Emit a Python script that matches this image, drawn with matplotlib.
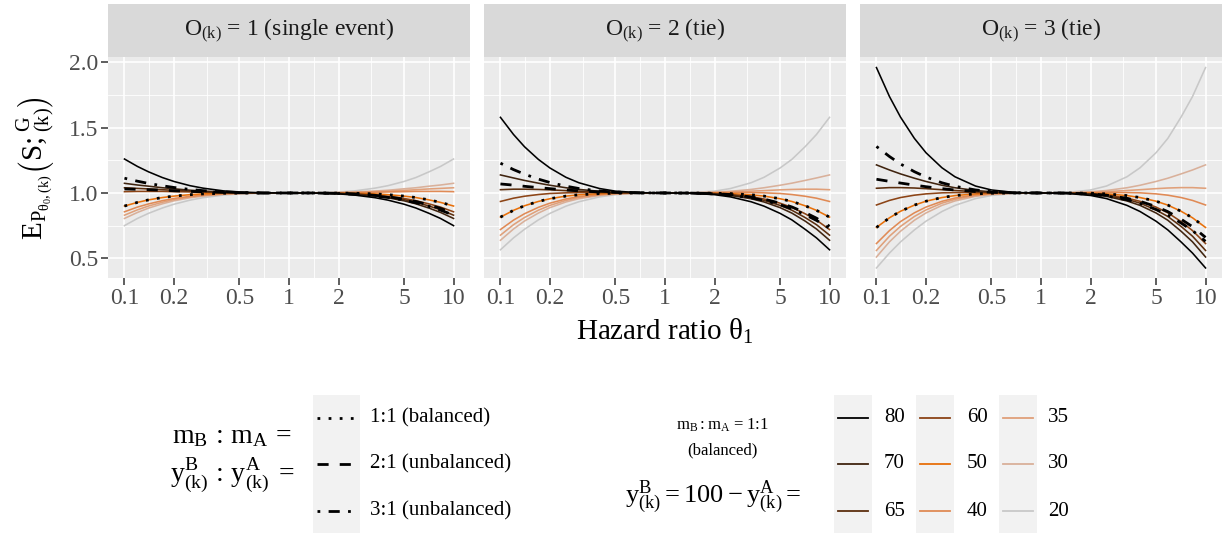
import matplotlib
matplotlib.use('Agg')
import matplotlib.pyplot as plt
from matplotlib.lines import Line2D
from matplotlib.patches import Rectangle

plt.rcParams['font.family'] = ['Liberation Serif', 'DejaVu Serif']
plt.rcParams['mathtext.fontset'] = 'custom'
plt.rcParams['mathtext.rm'] = 'Liberation Serif'
plt.rcParams['mathtext.it'] = 'Liberation Serif'
plt.rcParams['mathtext.bf'] = 'Liberation Serif:bold'

# ---------------- data ----------------
theta = [0.1, 0.12, 0.14, 0.17, 0.2, 0.25, 0.3, 0.4, 0.5, 0.7, 1,
         1.43, 2, 2.5, 3.33, 4, 5, 5.9, 7.1, 8.33, 10]

panel_titles = [r'$\mathrm{O_{(k)}}$ = 1 (single event)',
                r'$\mathrm{O_{(k)}}$ = 2 (tie)',
                r'$\mathrm{O_{(k)}}$ = 3 (tie)']

y_levels = ['80', '70', '65', '60', '50', '40', '35', '30', '20']
y_colors = ['#000000', '#40240f', '#5c2e0e', '#8c4416', '#e8700a',
            '#e08a55', '#e0a07a', '#d9b09a', '#c8c8c8']

ratio_labels = ['1:1 (balanced)', '2:1 (unbalanced)', '3:1 (unbalanced)']

panel1_y = {
    '80': [1.260, 1.203, 1.162, 1.118, 1.088, 1.056, 1.037, 1.016, 1.007, 1.001, 1, 0.999, 0.993, 0.984, 0.964, 0.945, 0.914, 0.885, 0.844, 0.805, 0.750],
    '70': [1.074, 1.061, 1.052, 1.040, 1.032, 1.021, 1.015, 1.007, 1.003, 1.001, 1, 0.999, 0.996, 0.990, 0.976, 0.963, 0.940, 0.917, 0.884, 0.851, 0.805],
    '65': [1.040, 1.035, 1.031, 1.025, 1.020, 1.014, 1.010, 1.005, 1.002, 1.000, 1, 1.000, 0.997, 0.992, 0.980, 0.969, 0.949, 0.929, 0.900, 0.871, 0.830],
    '60': [1.010, 1.012, 1.012, 1.012, 1.010, 1.008, 1.006, 1.003, 1.002, 1.000, 1, 1.000, 0.997, 0.993, 0.984, 0.974, 0.958, 0.941, 0.916, 0.892, 0.856],
    '50': [0.900, 0.928, 0.947, 0.965, 0.976, 0.987, 0.993, 0.998, 0.999, 1.000, 1, 1.000, 0.999, 0.998, 0.993, 0.987, 0.976, 0.965, 0.947, 0.928, 0.900],
    '40': [0.856, 0.892, 0.916, 0.941, 0.958, 0.974, 0.984, 0.993, 0.997, 1.000, 1, 1.000, 1.002, 1.003, 1.006, 1.008, 1.010, 1.012, 1.012, 1.012, 1.010],
    '35': [0.830, 0.871, 0.900, 0.929, 0.949, 0.969, 0.980, 0.992, 0.997, 1.000, 1, 1.000, 1.002, 1.005, 1.010, 1.014, 1.020, 1.025, 1.031, 1.035, 1.040],
    '30': [0.805, 0.851, 0.884, 0.917, 0.940, 0.963, 0.976, 0.990, 0.996, 0.999, 1, 1.001, 1.003, 1.007, 1.015, 1.021, 1.032, 1.040, 1.052, 1.061, 1.074],
    '20': [0.750, 0.805, 0.844, 0.885, 0.914, 0.945, 0.964, 0.984, 0.993, 0.999, 1, 1.001, 1.007, 1.016, 1.037, 1.056, 1.088, 1.118, 1.162, 1.203, 1.260],
}
panel1_ratio = {
    '1:1 (balanced)': [0.900, 0.928, 0.947, 0.965, 0.976, 0.987, 0.993, 0.998, 0.999, 1.000, 1, 1.000, 0.999, 0.998, 0.993, 0.987, 0.976, 0.965, 0.947, 0.928, 0.900],
    '2:1 (unbalanced)': [1.031, 1.028, 1.025, 1.021, 1.017, 1.012, 1.009, 1.004, 1.002, 1.000, 1, 1.000, 0.997, 0.993, 0.982, 0.971, 0.953, 0.935, 0.908, 0.882, 0.844],
    '3:1 (unbalanced)': [1.113, 1.090, 1.073, 1.055, 1.042, 1.027, 1.018, 1.008, 1.004, 1.000, 1, 1.000, 0.996, 0.990, 0.976, 0.966, 0.945, 0.925, 0.897, 0.869, 0.830],
}

panel2_y = {
    '80': [1.579, 1.448, 1.354, 1.257, 1.191, 1.120, 1.078, 1.034, 1.014, 1.002, 1, 0.998, 0.987, 0.970, 0.933, 0.899, 0.844, 0.794, 0.722, 0.656, 0.565],
    '70': [1.138, 1.115, 1.096, 1.075, 1.059, 1.040, 1.027, 1.013, 1.006, 1.001, 1, 0.999, 0.992, 0.981, 0.956, 0.931, 0.888, 0.846, 0.785, 0.724, 0.638],
    '65': [1.025, 1.029, 1.029, 1.027, 1.024, 1.018, 1.014, 1.007, 1.004, 1.001, 1, 0.999, 0.994, 0.985, 0.964, 0.943, 0.905, 0.868, 0.812, 0.757, 0.677],
    '60': [0.935, 0.960, 0.975, 0.988, 0.996, 1.001, 1.003, 1.003, 1.002, 1.000, 1, 1.000, 0.996, 0.989, 0.972, 0.954, 0.922, 0.890, 0.841, 0.792, 0.720],
    '50': [0.815, 0.867, 0.902, 0.935, 0.956, 0.976, 0.986, 0.995, 0.998, 1.000, 1, 1.000, 0.998, 0.995, 0.986, 0.976, 0.956, 0.935, 0.902, 0.867, 0.815],
    '40': [0.720, 0.792, 0.841, 0.890, 0.922, 0.954, 0.972, 0.989, 0.996, 1.000, 1, 1.000, 1.002, 1.003, 1.003, 1.001, 0.996, 0.988, 0.975, 0.960, 0.935],
    '35': [0.677, 0.757, 0.812, 0.868, 0.905, 0.943, 0.964, 0.985, 0.994, 0.999, 1, 1.001, 1.004, 1.007, 1.014, 1.018, 1.024, 1.027, 1.029, 1.029, 1.025],
    '30': [0.638, 0.724, 0.785, 0.846, 0.888, 0.931, 0.956, 0.981, 0.992, 0.999, 1, 1.001, 1.006, 1.013, 1.027, 1.040, 1.059, 1.075, 1.096, 1.115, 1.138],
    '20': [0.565, 0.656, 0.722, 0.794, 0.844, 0.899, 0.933, 0.970, 0.987, 0.998, 1, 1.002, 1.014, 1.034, 1.078, 1.120, 1.191, 1.257, 1.354, 1.448, 1.579],
}
panel2_ratio = {
    '1:1 (balanced)': [0.815, 0.867, 0.902, 0.935, 0.956, 0.976, 0.986, 0.995, 0.998, 1.000, 1, 1.000, 0.998, 0.995, 0.986, 0.976, 0.956, 0.935, 0.902, 0.867, 0.815],
    '2:1 (unbalanced)': [1.069, 1.060, 1.051, 1.041, 1.033, 1.023, 1.016, 1.008, 1.004, 1.001, 1, 0.999, 0.995, 0.988, 0.970, 0.953, 0.922, 0.893, 0.850, 0.807, 0.745],
    '3:1 (unbalanced)': [1.228, 1.179, 1.144, 1.106, 1.080, 1.052, 1.034, 1.015, 1.007, 1.001, 1, 0.999, 0.993, 0.984, 0.963, 0.943, 0.910, 0.879, 0.834, 0.790, 0.730],
}

panel3_y = {
    '80': [1.960, 1.738, 1.581, 1.418, 1.308, 1.193, 1.124, 1.053, 1.023, 1.003, 1, 0.997, 0.981, 0.957, 0.905, 0.858, 0.784, 0.717, 0.625, 0.540, 0.426],
    '70': [1.215, 1.176, 1.146, 1.113, 1.088, 1.059, 1.040, 1.019, 1.009, 1.001, 1, 0.999, 0.989, 0.974, 0.939, 0.905, 0.847, 0.791, 0.707, 0.626, 0.510],
    '65': [1.036, 1.041, 1.041, 1.038, 1.033, 1.025, 1.019, 1.010, 1.005, 1.001, 1, 0.999, 0.992, 0.980, 0.951, 0.922, 0.870, 0.820, 0.744, 0.669, 0.560],
    '60': [0.908, 0.943, 0.965, 0.983, 0.993, 1.001, 1.003, 1.003, 1.002, 1.000, 1, 0.999, 0.994, 0.985, 0.961, 0.936, 0.892, 0.848, 0.781, 0.712, 0.613],
    '50': [0.736, 0.810, 0.860, 0.907, 0.937, 0.965, 0.980, 0.993, 0.998, 1.000, 1, 1.000, 0.998, 0.993, 0.980, 0.965, 0.937, 0.907, 0.860, 0.810, 0.736],
    '40': [0.613, 0.712, 0.781, 0.848, 0.892, 0.936, 0.961, 0.985, 0.994, 0.999, 1, 1.000, 1.002, 1.003, 1.003, 1.001, 0.993, 0.983, 0.965, 0.943, 0.908],
    '35': [0.560, 0.669, 0.744, 0.820, 0.870, 0.922, 0.951, 0.980, 0.992, 0.999, 1, 1.001, 1.005, 1.010, 1.019, 1.025, 1.033, 1.038, 1.041, 1.041, 1.036],
    '30': [0.510, 0.626, 0.707, 0.791, 0.847, 0.905, 0.939, 0.974, 0.989, 0.999, 1, 1.001, 1.009, 1.019, 1.040, 1.059, 1.088, 1.113, 1.146, 1.176, 1.215],
    '20': [0.426, 0.540, 0.625, 0.717, 0.784, 0.858, 0.905, 0.957, 0.981, 0.997, 1, 1.003, 1.023, 1.053, 1.124, 1.193, 1.308, 1.418, 1.581, 1.738, 1.960],
}
panel3_ratio = {
    '1:1 (balanced)': [0.736, 0.810, 0.860, 0.907, 0.937, 0.965, 0.980, 0.993, 0.998, 1.000, 1, 1.000, 0.998, 0.993, 0.980, 0.965, 0.937, 0.907, 0.860, 0.810, 0.736],
    '2:1 (unbalanced)': [1.105, 1.089, 1.076, 1.060, 1.048, 1.033, 1.023, 1.011, 1.005, 1.001, 1, 0.999, 0.993, 0.983, 0.959, 0.936, 0.896, 0.857, 0.799, 0.742, 0.660],
    '3:1 (unbalanced)': [1.356, 1.279, 1.222, 1.163, 1.122, 1.078, 1.051, 1.023, 1.010, 1.001, 1, 0.999, 0.990, 0.977, 0.948, 0.920, 0.874, 0.832, 0.770, 0.712, 0.630],
}

x_breaks = [0.1, 0.2, 0.5, 1, 2, 5, 10]
x_labels = ['0.1', '0.2', '0.5', '1', '2', '5', '10']
x_minor = [0.1414, 0.3162, 0.7071, 1.4142, 3.1623, 7.0711]
y_breaks = [0.5, 1.0, 1.5, 2.0]
y_labels = ['0.5', '1.0', '1.5', '2.0']
y_minor = [0.75, 1.25, 1.75]

# ---------------- styles ----------------
ratio_styles = [(0, (1, 3)), (0, (4, 4)), (0, (1, 3, 4, 3))]
W, H = 1225, 533
fig = plt.figure(figsize=(W / 100, H / 100), dpi=100)


def fx(x):
    return x / W


def fy(y):
    return 1 - y / H


panel_left = [108, 484, 860]
panel_w = 362
top, bottom = 57, 278
strip_top = 4

panels_y = [panel1_y, panel2_y, panel3_y]
panels_r = [panel1_ratio, panel2_ratio, panel3_ratio]

for i in range(3):
    ax = fig.add_axes([fx(panel_left[i]), fy(bottom), panel_w / W, (bottom - top) / H])
    ax.set_facecolor('#EBEBEB')
    ax.set_xscale('log')
    ax.set_xlim(10 ** -1.1, 10 ** 1.1)
    ax.set_ylim(0.349, 2.041)
    for s in ax.spines.values():
        s.set_visible(False)
    for xv in x_minor:
        ax.axvline(xv, color='white', lw=0.6, zorder=0.5)
    for yv in y_minor:
        ax.axhline(yv, color='white', lw=0.6, zorder=0.5)
    for xv in x_breaks:
        ax.axvline(xv, color='white', lw=1.2, zorder=0.6)
    for yv in y_breaks:
        ax.axhline(yv, color='white', lw=1.2, zorder=0.6)
    ax.set_xticks(x_breaks)
    ax.set_xticklabels(x_labels)
    ax.xaxis.set_minor_locator(matplotlib.ticker.NullLocator())
    ax.tick_params(axis='x', length=5, width=1.1, color='#333333',
                   labelsize=17, labelcolor='#4D4D4D', pad=2)
    ax.set_yticks(y_breaks)
    if i == 0:
        ax.set_yticklabels(y_labels)
        ax.tick_params(axis='y', length=5, width=1.1, color='#333333',
                       labelsize=17, labelcolor='#4D4D4D', pad=2)
    else:
        ax.tick_params(axis='y', length=0, labelleft=False)

    dct = panels_y[i]
    for lev, col in reversed(list(zip(y_levels, y_colors))):
        ax.plot(theta, dct[lev], color=col, lw=1.15, zorder=2)
    rd = panels_r[i]
    for lab, ls in zip(ratio_labels, ratio_styles):
        ax.plot(theta, rd[lab], color='black', lw=2.0, linestyle=ls,
                dash_capstyle='butt', zorder=3)

    # strip
    sax = fig.add_axes([fx(panel_left[i]), fy(top), panel_w / W, (top - strip_top) / H])
    sax.set_facecolor('#D9D9D9')
    sax.set_xticks([])
    sax.set_yticks([])
    for s in sax.spines.values():
        s.set_visible(False)
    sax.text(0.5, 0.5, panel_titles[i], ha='center', va='center',
             fontsize=17, color='#1A1A1A', transform=sax.transAxes)

# axis titles
fig.text(fx(665), fy(331), r'Hazard ratio $\mathrm{\theta_1}$', ha='center', va='center', fontsize=21)
fig.text(fx(36), fy(168), r'$\mathrm{E_{P_{\theta_0,(k)}}\left(S;^{G}_{(k)}\right)}$',
         ha='center', va='center', rotation=90, fontsize=21)

# ---------------- legends ----------------
key_bg = '#F2F2F2'
rows = [418, 464, 511]

# legend 1 (linetype)
fig.add_artist(Rectangle((fx(313), fy(533)), 47 / W, 138 / H, transform=fig.transFigure,
                         facecolor=key_bg, edgecolor='none'))
for r, lab, ls in zip(rows, ratio_labels, ratio_styles):
    fig.add_artist(Line2D([fx(317), fx(356)], [fy(r), fy(r)], transform=fig.transFigure,
                          color='black', lw=2.0, linestyle=ls, dash_capstyle='butt'))
    fig.text(fx(370), fy(r), lab, ha='left', va='center', fontsize=15)
fig.text(fx(172), fy(437), r'$\mathrm{m_B\,:\,m_A\,=}$', ha='left', va='center', fontsize=20)
fig.text(fx(170), fy(476), r'$\mathrm{y^B_{(k)}\,:\,y^A_{(k)}\;=}$', ha='left', va='center', fontsize=20)

# legend 2 (colour)
fig.text(fx(722), fy(425), r'$\mathrm{m_B{:}m_A}$ = 1:1', ha='center', va='center', fontsize=12)
fig.text(fx(722), fy(450), '(balanced)', ha='center', va='center', fontsize=12)
fig.text(fx(625), fy(497), r'$\mathrm{y^B_{(k)} = 100 - y^A_{(k)} =}$', ha='left', va='center', fontsize=19)

col_bg = [834, 916, 999]
col_lab = [884, 967, 1048]
for c in range(3):
    fig.add_artist(Rectangle((fx(col_bg[c]), fy(533)), 38 / W, 138 / H, transform=fig.transFigure,
                             facecolor=key_bg, edgecolor='none'))
    for rr in range(3):
        k = c * 3 + rr
        fig.add_artist(Line2D([fx(col_bg[c] + 4), fx(col_bg[c] + 34)], [fy(rows[rr]), fy(rows[rr])],
                              transform=fig.transFigure, color=y_colors[k], lw=1.3))
        fig.text(fx(col_lab[c]), fy(rows[rr]), y_levels[k], ha='left', va='center', fontsize=15)

fig.savefig('out.png', dpi=100)
